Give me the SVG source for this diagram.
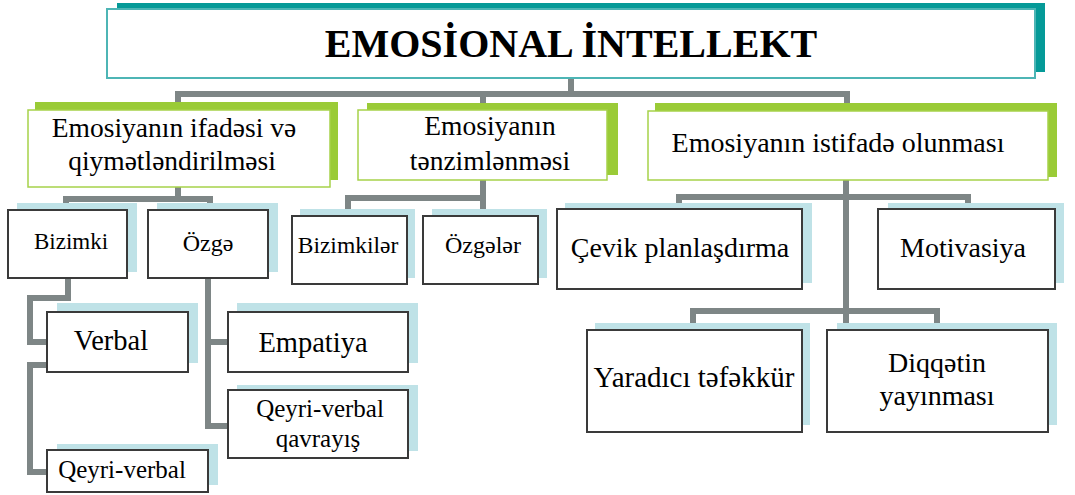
<svg xmlns="http://www.w3.org/2000/svg" width="1075" height="495" viewBox="0 0 1075 495">
<style>
.t{font-family:"Liberation Serif","Times New Roman",serif;fill:#000;text-anchor:middle}
.conn{fill:none;stroke:#7e8686;stroke-width:6;stroke-linejoin:miter;stroke-linecap:butt}
.gsh{fill:#9acb37}
.gbox{fill:#fff;stroke:#a6d24a;stroke-width:1.5}
.bsh{fill:#bfe2e7}
.box{fill:#fff;stroke:#3a3a3a;stroke-width:2}
</style>
<rect width="1075" height="495" fill="#fff"/>
<g id="connectors">
<path class="conn" d="M571,78 V94"/>
<path class="conn" d="M178,104 V94 H847 V104"/>
<path class="conn" d="M483,94 V104"/>
<path class="conn" d="M178,186 V199"/>
<path class="conn" d="M66,206 V199 H210 V206"/>
<path class="conn" d="M68,278 V298 H30 V342 H48"/>
<path class="conn" d="M48,365 H30 V472 H48"/>
<path class="conn" d="M208,278 V426 H229"/>
<path class="conn" d="M208,342 H229"/>
<path class="conn" d="M483,180 V210"/>
<path class="conn" d="M348,210 V198 H483"/>
<path class="conn" d="M846,180 V324"/>
<path class="conn" d="M679,204 V197 H968 V204"/>
<path class="conn" d="M693,324 V311 H937 V324"/>
</g>
<g id="title">
<rect x="117" y="3" width="928" height="69" fill="#059a98"/>
<rect x="107" y="9" width="928" height="69" fill="#fff" stroke="#4db5b5" stroke-width="2"/>
<text class="t" x="571" y="57" font-size="40" font-weight="bold">EMOSİONAL İNTELLEKT</text>
</g>
<g id="n-ifade">
<rect class="gsh" x="35" y="102" width="303" height="78"/>
<rect class="gbox" x="28" y="110" width="302" height="77"/>
<text class="t" x="174" y="137" font-size="27.5">Emosiyanın ifadəsi və</text>
<text class="t" x="172" y="170" font-size="27.5">qiymətləndirilməsi</text>
</g>
<g id="n-tenzim">
<rect class="gsh" x="367" y="103" width="251" height="72"/>
<rect class="gbox" x="358" y="110" width="249" height="70"/>
<text class="t" x="490" y="135" font-size="27.5">Emosiyanın</text>
<text class="t" x="490" y="170" font-size="27.5">tənzimlənməsi</text>
</g>
<g id="n-istifade">
<rect class="gsh" x="655" y="103" width="402" height="74"/>
<rect class="gbox" x="648" y="111" width="400" height="69"/>
<text class="t" x="838" y="152" font-size="28">Emosiyanın istifadə olunması</text>
</g>
<g id="n-bizimki">
<rect class="bsh" x="17" y="203" width="120" height="69"/>
<rect class="box" x="8" y="210" width="119" height="68"/>
<text class="t" x="71" y="249" font-size="23">Bizimki</text>
</g>
<g id="n-ozge">
<rect class="bsh" x="157" y="203" width="121" height="69"/>
<rect class="box" x="148" y="210" width="120" height="68"/>
<text class="t" x="208" y="251" font-size="24">Özgə</text>
</g>
<g id="n-bizimkiler">
<rect class="bsh" x="300" y="209" width="115" height="69"/>
<rect class="box" x="292" y="216" width="115" height="68"/>
<text class="t" x="348" y="253" font-size="23.5">Bizimkilər</text>
</g>
<g id="n-ozgeler">
<rect class="bsh" x="432" y="209" width="115" height="69"/>
<rect class="box" x="423" y="216" width="115" height="68"/>
<text class="t" x="483" y="253" font-size="24">Özgələr</text>
</g>
<g id="n-cevik">
<rect class="bsh" x="565" y="203" width="247" height="80"/>
<rect class="box" x="557" y="209" width="245" height="80"/>
<text class="t" x="680" y="257" font-size="28">Çevik planlaşdırma</text>
</g>
<g id="n-motivasiya">
<rect class="bsh" x="888" y="203" width="176" height="80"/>
<rect class="box" x="878" y="209" width="177" height="80"/>
<text class="t" x="963" y="257" font-size="28">Motivasiya</text>
</g>
<g id="n-verbal">
<rect class="bsh" x="57" y="303" width="141" height="60"/>
<rect class="box" x="47" y="312" width="141" height="60"/>
<text class="t" x="111" y="350" font-size="28.5">Verbal</text>
</g>
<g id="n-empatiya">
<rect class="bsh" x="237" y="303" width="181" height="60"/>
<rect class="box" x="228" y="312" width="180" height="60"/>
<text class="t" x="313" y="352" font-size="28.5">Empatiya</text>
</g>
<g id="n-qeyri-qavrayis">
<rect class="bsh" x="237" y="385" width="181" height="66"/>
<rect class="box" x="228" y="390" width="180" height="68"/>
<text class="t" x="320" y="417" font-size="25">Qeyri-verbal</text>
<text class="t" x="318" y="447" font-size="25">qavrayış</text>
</g>
<g id="n-qeyri-verbal">
<rect class="bsh" x="57" y="444" width="161" height="41"/>
<rect class="box" x="47" y="450" width="161" height="42"/>
<text class="t" x="122" y="478" font-size="25">Qeyri-verbal</text>
</g>
<g id="n-yaradici">
<rect class="bsh" x="595" y="323" width="215" height="102"/>
<rect class="box" x="587" y="330" width="215" height="102"/>
<text class="t" x="694" y="387" font-size="29">Yaradıcı təfəkkür</text>
</g>
<g id="n-diqqet">
<rect class="bsh" x="837" y="323" width="220" height="102"/>
<rect class="box" x="827" y="330" width="221" height="102"/>
<text class="t" x="937" y="372" font-size="28">Diqqətin</text>
<text class="t" x="937" y="405" font-size="28">yayınması</text>
</g>
</svg>
